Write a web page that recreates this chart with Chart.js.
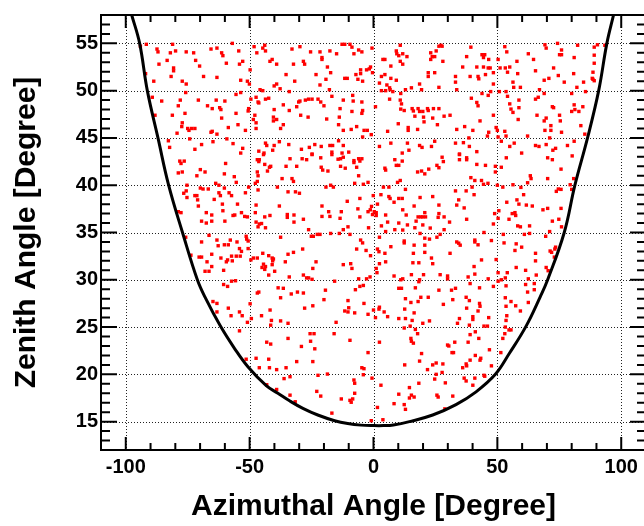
<!DOCTYPE html>
<html>
<head>
<meta charset="utf-8">
<script src="https://cdn.jsdelivr.net/npm/chart.js@4.4.1/dist/chart.umd.min.js"></script>
<style>
  html, body { margin: 0; padding: 0; background: #fff; overflow: hidden; }
  #wrap { width: 660px; height: 526px; }
</style>
</head>
<body>
<div id="wrap"><canvas id="myChart" width="660" height="526"></canvas></div>
<script>
// hits as [azimuth, zenith] pairs
const hitsTop = [
  [-94.1,54.7],[-91.7,54.9],[-87.4,54.4],[-87.0,54.1],[-81.1,54.9],[-82.0,54.0],[-79.9,54.2],[-75.6,54.1],[-72.6,54.0],[-65.6,54.4],[-63.2,54.5],[-61.3,54.0],[-60.8,53.7],[-57.0,55.0],[-83.3,53.2],[-86.6,52.8],[-71.8,53.2],[-70.2,52.6],[-59.4,52.9],[-80.7,52.4],[-80.7,52.1],[-92.0,51.8],[-88.7,51.0],[-81.7,51.5],[-77.2,51.0],[-75.6,50.7],[-68.6,51.5],[-63.2,51.4],[-75.8,49.8],[-89.3,49.3],[-85.5,48.9],[-78.0,49.0],[-78.8,48.4],[-70.7,49.0],[-67.0,48.4],[-65.1,48.1],[-63.5,49.0],[-60.0,48.9],[-62.1,48.2],[-61.6,48.0],[-88.2,47.4],[-81.2,47.4],[-76.1,47.6],[-61.3,47.1],[-77.2,46.6],[-77.4,46.2],[-75.0,46.0],[-73.4,46.0],[-72.1,46.0],[-74.5,45.8],[-79.3,45.5],[-65.6,45.6],[-65.1,45.7],[-63.2,45.4],[-58.6,46.1],[-82.8,44.7],[-74.2,44.9],[-64.8,44.6],[-59.2,44.9],[-82.3,44.0],[-72.1,43.8],[-69.4,44.3],[-56.7,44.4],
  [-54.4,54.2],[-48.2,54.65],[-47.1,54.0],[-44.7,54.5],[-43.9,54.8],[-43.6,54.2],[-32.9,54.4],[-29.7,54.65],[-25.4,54.1],[-21.6,54.1],[-20.8,53.5],[-20.8,53.3],[-17.6,54.2],[-14.9,53.9],[-12.7,54.9],[-11.6,54.9],[-9.5,54.9],[-8.7,54.6],[-7.9,53.9],[-6.0,54.3],[-4.7,54.1],[-0.6,54.5],[-54.1,52.8],[-52.8,53.1],[-41.8,53.1],[-40.9,53.3],[-39.1,52.8],[-32.3,52.8],[-28.3,53.1],[-27.8,52.8],[-18.6,52.5],[-17.3,51.9],[-7.1,51.7],[-5.2,52.2],[-5.2,51.8],[-2.8,52.2],[-1.7,52.3],[-1.2,52.5],[-0.4,51.9],[-49.8,52.2],[-35.3,51.7],[-53.6,51.1],[-50.9,51.0],[-50.1,50.7],[-40.1,50.5],[-39.1,50.7],[-37.7,50.2],[-31.8,51.0],[-23.2,51.7],[-21.6,50.6],[-19.2,51.2],[-11.6,51.3],[-10.6,51.3],[-6.3,51.2],[-4.4,51.0],[-45.8,50.1],[-44.7,50.0],[-34.0,49.9],[-17.8,50.1],[-55.5,49.6],[-53.6,49.8],[-49.5,49.1],[-47.4,49.3],[-46.6,48.8],[-46.3,48.7],[-43.6,49.1],[-42.3,49.2],[-36.4,48.5],[-34.0,47.9],[-31.0,48.3],[-30.2,48.8],[-29.7,48.9],[-27.5,49.0],[-26.2,49.1],[-24.8,49.1],[-22.4,49.1],[-21.3,48.8],[-20.0,48.4],[-16.8,49.4],[-12.2,49.0],[-8.4,49.5],[-4.7,48.8],[-8.2,48.9],[-4.4,47.9],[-4.7,47.6],[-8.7,47.8],[-13.5,48.1],[-40.1,48.0],[-50.4,48.1],[-50.6,47.85],[-55.5,47.6],[-47.9,47.4],[-48.5,46.95],[-47.4,46.6],[-40.4,47.2],[-39.1,46.95],[-40.4,46.8],[-36.4,46.4],[-29.4,47.4],[-26.4,47.2],[-18.9,47.0],[-13.8,47.2],[-14.1,46.4],[-12.2,45.8],[-9.0,45.9],[-6.8,46.2],[-3.8,45.8],[-2.5,45.8],[-37.5,46.0],[-47.4,46.0],[-51.7,45.8],[-54.7,46.4],[-4.4,45.1],[-0.9,45.35],[-52.8,43.9],[-53.6,43.4],[-46.3,43.6],[-43.6,44.45],[-43.1,44.2],[-40.1,44.2],[-38.0,44.6],[-34.2,44.3],[-44.2,43.4],[-40.7,43.7],[-29.1,43.8],[-25.9,44.0],[-24.8,43.3],[-23.7,44.3],[-21.1,44.1],[-17.6,44.2],[-16.5,44.2],[-16.8,43.5],[-14.1,44.7],[-12.2,44.2],[-12.7,43.4],[-10.0,43.5],
  [10.8,54.8],[9.2,54.2],[9.4,53.9],[10.2,53.7],[11.8,53.9],[13.5,53.6],[3.8,53.3],[4.6,53.3],[10.8,53.1],[11.8,52.8],[7.0,52.6],[23.1,54.0],[23.7,53.6],[24.7,53.6],[23.1,53.3],[25.3,54.2],[26.4,54.7],[27.2,54.8],[27.7,54.7],[28.0,53.1],[37.6,53.6],[39.3,54.6],[43.8,53.8],[44.9,53.8],[44.4,53.5],[46.5,53.3],[50.3,53.3],[53.0,54.65],[53.8,54.1],[41.7,52.5],[44.4,52.5],[46.3,52.4],[47.1,52.4],[48.4,51.9],[51.1,52.4],[53.2,52.4],[36.0,52.5],[45.2,51.7],[42.2,51.5],[42.5,51.25],[39.0,51.5],[33.1,51.5],[33.1,50.9],[24.7,51.9],[22.1,51.9],[22.1,51.5],[18.6,50.7],[4.6,51.7],[3.2,51.5],[7.0,51.3],[9.2,51.1],[2.4,50.8],[5.4,50.6],[6.5,50.3],[6.7,50.1],[4.9,50.0],[3.2,50.0],[7.8,49.9],[11.0,49.7],[12.9,50.1],[15.3,50.3],[19.4,50.1],[26.4,50.35],[33.6,50.1],[48.4,50.7],[43.8,49.7],[46.3,49.5],[47.3,49.9],[50.8,49.9],[53.5,49.9],[39.5,49.2],[41.7,48.75],[42.2,48.4],[6.5,49.1],[10.8,49.0],[11.3,48.6],[0.8,48.3],[11.0,48.05],[12.4,47.9],[15.6,48.1],[18.0,48.1],[18.6,47.8],[16.1,47.85],[19.9,47.8],[21.8,48.1],[24.2,48.1],[26.4,48.1],[20.2,47.2],[16.7,47.3],[22.1,47.9],[20.4,46.7],[23.9,47.1],[25.8,46.4],[28.5,47.3],[30.9,47.4],[10.0,46.5],[14.0,46.1],[14.0,45.8],[17.8,45.9],[5.7,45.7],[36.8,46.2],[33.6,45.9],[40.1,45.8],[43.0,46.8],[48.4,47.4],[49.5,46.1],[50.0,45.8],[46.5,45.6],[46.0,45.2],[50.3,45.1],[53.0,45.7],[53.5,45.2],[38.5,45.0],[24.7,44.65],[23.4,44.1],[18.6,44.2],[19.6,44.0],[13.7,44.45],[7.0,44.45],[2.4,44.1],[11.6,43.4],[14.3,43.7],[33.1,44.45],[34.7,43.3],[36.3,44.5],[38.7,44.1],[41.7,43.55],[51.6,44.65],
  [69.2,54.85],[69.7,54.5],[74.3,55.0],[75.9,54.3],[75.1,53.8],[75.9,53.8],[82.4,54.8],[81.0,53.5],[89.1,54.6],[90.4,54.85],[93.4,54.8],[89.1,53.75],[62.5,53.9],[64.6,53.3],[57.9,53.1],[55.0,52.5],[54.1,51.95],[65.4,52.1],[58.2,51.8],[72.7,52.4],[74.6,51.6],[68.9,51.1],[70.8,51.3],[77.0,50.9],[80.8,51.8],[84.8,50.9],[88.6,51.95],[88.3,51.3],[88.6,51.2],[89.1,51.05],[89.1,52.9],[56.3,50.9],[56.6,50.35],[59.3,50.35],[67.0,50.1],[68.9,49.7],[66.5,49.3],[65.4,49.1],[82.1,50.35],[85.6,49.9],[80.0,49.7],[54.1,49.4],[58.7,49.0],[55.0,48.6],[58.7,48.2],[55.5,48.05],[56.3,47.7],[58.4,46.95],[66.0,47.4],[68.9,46.8],[69.7,47.1],[72.2,48.3],[72.7,48.2],[75.1,47.4],[75.4,46.8],[81.0,48.5],[81.3,48.0],[80.0,47.8],[82.9,47.8],[84.5,48.3],[83.7,46.3],[71.6,46.3],[71.6,45.8],[69.2,45.8],[75.9,45.6],[62.2,45.2],[71.1,45.0],[85.3,45.4],[55.0,44.1],[56.8,44.45],[59.8,43.4],[65.4,44.2],[66.8,44.1],[69.7,44.3],[72.4,43.7],[73.5,43.9],[78.3,44.2],[81.0,44.65]
];

const hitsMiddle = [
  [-78.2,42.55],[-76.4,42.55],[-77.7,42.3],[-78.8,41.3],[-77.2,41.4],[-69.9,41.65],[-68.0,41.4],[-71.3,41.0],[-59.7,42.3],[-60.2,41.2],[-56.2,40.9],[-75.3,40.0],[-75.6,39.4],[-76.6,39.15],[-75.3,38.7],[-72.1,38.9],[-71.3,38.9],[-71.0,38.45],[-70.7,37.8],[-69.9,39.7],[-68.8,39.6],[-66.7,39.6],[-63.7,40.2],[-62.4,40.0],[-60.2,39.7],[-62.4,39.2],[-61.8,38.9],[-58.3,39.2],[-57.3,38.9],[-55.4,40.3],[-54.9,38.0],[-64.3,38.5],[-61.0,38.0],[-78.8,37.2],[-77.7,37.1],[-67.5,37.1],[-65.3,36.85],[-69.4,36.2],[-67.5,36.0],[-65.3,36.2],[-60.8,37.3],[-60.0,36.2],[-56.7,36.8],[-66.4,34.7],[-75.8,34.5],[-69.4,34.0],[-63.2,34.2],[-62.7,33.6],[-60.2,33.7],[-58.6,33.7],[-57.8,34.2],[-55.1,34.0],[-70.4,32.4],[-69.4,32.4],[-73.7,32.6],[-65.3,32.7],[-61.6,32.3],[-58.9,32.1],[-59.4,31.9],[-57.3,32.5],[-55.4,32.5],[-57.0,32.0],[-67.2,31.9],[-65.3,31.4],[-68.0,30.9],[-66.4,30.9],[-60.5,31.0],[-57.3,29.85],[-55.7,29.9],[-60.5,29.5],[-58.9,29.3],
  [-46.9,42.7],[-46.1,42.7],[-46.3,42.5],[-44.4,43.24],[-43.9,42.2],[-42.0,41.9],[-42.8,41.5],[-41.5,42.0],[-35.3,42.0],[-33.7,42.8],[-31.0,42.0],[-28.8,42.8],[-27.0,42.7],[-24.8,43.24],[-36.9,40.7],[-32.9,40.7],[-32.3,40.4],[-46.9,41.4],[-46.6,41.0],[-46.9,40.4],[-47.7,40.2],[-50.4,39.8],[-38.8,39.8],[-34.5,39.3],[-31.5,39.3],[-29.9,39.15],[-21.1,41.9],[-20.5,41.6],[-18.4,41.5],[-21.3,42.9],[-16.8,43.24],[-14.3,42.75],[-13.3,42.8],[-12.2,42.96],[-13.3,42.0],[-11.4,41.8],[-7.9,42.6],[-7.9,42.4],[-6.0,42.8],[-4.7,42.8],[-5.5,42.55],[-6.8,41.9],[-6.0,41.0],[-19.2,39.8],[-17.3,40.0],[-16.2,39.8],[-7.6,40.2],[-4.1,40.1],[-2.2,40.3],[-46.6,39.5],[-51.7,39.2],[-47.4,37.9],[-53.3,37.1],[-56.0,36.85],[-52.0,36.7],[-50.9,36.65],[-47.7,37.1],[-43.9,36.65],[-41.8,36.8],[-38.0,37.8],[-34.8,36.9],[-34.8,36.6],[-32.1,36.85],[-28.3,36.4],[-32.1,36.1],[-47.4,36.1],[-46.1,35.9],[-45.2,35.95],[-46.6,35.6],[-43.6,35.5],[-20.8,37.8],[-18.1,37.2],[-17.6,36.7],[-20.8,36.7],[-13.0,37.2],[-13.5,36.5],[-10.6,38.3],[-5.5,38.6],[-6.3,37.5],[-5.5,36.65],[-2.2,37.2],[-0.4,36.9],[-0.1,38.9],[-10.3,35.6],[-2.0,35.5],[-26.2,35.3],[-25.1,34.6],[-24.3,34.6],[-22.7,34.8],[-21.6,34.8],[-17.3,34.9],[-13.8,34.9],[-12.2,35.3],[-9.5,34.8],[-5.2,34.2],[-4.4,33.9],[-6.8,33.25],[-3.0,33.1],[-1.2,32.55],[-51.4,34.6],[-51.2,34.3],[-50.6,34.1],[-54.1,33.3],[-53.3,33.0],[-50.6,33.3],[-53.8,32.5],[-49.5,32.1],[-48.5,32.3],[-46.9,32.3],[-44.7,32.8],[-42.3,32.55],[-40.9,32.3],[-40.4,32.2],[-40.7,32.0],[-44.4,31.65],[-43.6,31.4],[-43.9,31.1],[-45.0,31.3],[-40.9,31.6],[-39.9,30.9],[-42.3,30.5],[-37.5,34.5],[-34.5,32.7],[-32.3,32.9],[-35.6,31.9],[-28.6,33.25],[-23.2,31.9],[-12.2,31.6],[-9.2,31.7],[-8.7,31.2],[-24.5,31.2],[-28.3,30.5],[-34.0,30.3],[-27.0,30.2],[-26.2,30.2],[-24.8,30.05],[-15.7,29.85],[-6.0,30.1],[-2.8,30.1],[-1.4,30.3],[-4.1,29.4],[-5.5,29.3],[-7.3,28.95],[-19.4,28.9],[-30.7,28.7],[-28.3,28.6],[-33.2,28.5],[-38.5,29.15],[-36.4,29.1],[-46.9,28.6],[-46.3,28.7],
  [8.6,42.7],[11.6,42.55],[9.2,42.1],[10.2,42.1],[4.6,41.8],[4.9,41.6],[17.8,41.4],[19.4,41.5],[20.7,41.2],[22.3,41.7],[25.6,42.1],[26.4,41.85],[27.7,42.96],[28.2,42.5],[34.7,43.24],[34.7,42.7],[37.6,42.9],[37.6,42.7],[41.7,42.2],[45.2,42.1],[49.2,42.0],[51.6,41.9],[49.2,41.4],[39.3,40.8],[40.9,40.5],[43.6,40.5],[44.4,40.1],[46.2,40.2],[50.0,40.0],[52.2,39.8],[10.8,40.5],[9.7,40.3],[4.0,39.8],[6.2,39.8],[12.9,39.56],[3.0,39.0],[6.2,38.8],[6.7,38.6],[10.2,38.6],[11.6,38.6],[8.3,38.2],[1.6,38.0],[18.8,38.7],[23.9,38.8],[33.1,39.4],[37.4,39.4],[39.8,39.8],[40.6,39.0],[34.4,38.45],[33.6,37.9],[36.6,37.6],[26.4,37.9],[16.4,37.8],[53.8,38.2],[-0.8,37.76],[-1.3,37.4],[0.3,37.2],[1.1,37.1],[1.1,36.8],[4.9,36.85],[11.8,37.4],[13.2,36.85],[20.7,37.1],[18.0,36.65],[19.1,36.65],[19.9,36.65],[21.0,36.65],[17.2,36.2],[26.4,37.0],[26.1,36.6],[28.5,36.65],[30.7,36.1],[37.6,36.4],[48.9,37.0],[50.6,37.3],[50.3,36.5],[48.4,35.9],[13.7,35.8],[10.2,36.0],[5.7,36.1],[3.2,35.7],[8.6,35.3],[11.8,35.26],[4.9,35.1],[16.7,35.5],[19.9,35.8],[22.9,35.47],[28.5,35.3],[26.9,34.8],[25.6,34.5],[18.8,34.9],[22.6,34.3],[20.7,34.4],[12.4,34.1],[12.4,33.9],[2.4,34.5],[7.0,33.5],[1.6,33.25],[2.2,32.97],[4.6,32.8],[16.1,32.8],[16.4,33.66],[20.7,33.66],[20.7,32.9],[23.4,32.3],[23.9,31.7],[15.9,31.8],[18.3,31.8],[4.9,31.9],[2.4,31.7],[1.1,31.2],[1.4,30.75],[30.9,32.8],[33.6,34.0],[35.0,33.66],[34.4,33.87],[40.9,34.2],[40.9,34.0],[42.2,33.7],[44.6,35.0],[47.6,34.15],[52.7,33.9],[52.4,34.8],[49.5,32.14],[43.6,32.1],[40.6,31.4],[40.9,30.6],[50.3,30.75],[54.0,30.75],[53.2,30.2],[50.3,29.85],[46.3,30.1],[38.2,30.3],[29.9,30.4],[29.9,30.1],[26.9,30.54],[20.2,30.54],[15.3,30.54],[18.6,30.0],[18.3,29.8],[11.8,30.1],[11.0,30.0],[8.3,30.4],[16.9,29.15],[10.2,29.1],[11.3,29.1],[26.4,28.9],[31.5,28.9],[33.1,29.1],[39.0,29.6],[42.8,29.15],[48.4,29.3],[51.6,30.0],[53.5,29.36],
  [53.6,42.9],[70.3,42.9],[72.2,42.7],[80.2,43.1],[75.7,41.7],[63.3,41.0],[63.6,40.7],[62.2,40.26],[70.3,40.7],[59.5,39.77],[56.3,40.05],[80.8,40.7],[79.4,40.05],[80.0,39.56],[73.8,39.35],[74.6,39.6],[75.7,39.56],[60.6,39.0],[57.9,38.45],[58.7,38.0],[61.7,37.9],[64.1,37.8],[68.4,37.4],[70.3,37.55],[75.7,37.55],[56.0,37.0],[57.1,37.1],[57.4,36.8],[54.7,36.4],[58.2,35.7],[59.3,35.6],[63.0,35.7],[72.2,36.2],[74.8,36.4],[75.9,35.6],[71.1,35.1],[69.5,34.6],[63.0,34.9],[60.9,34.8],[57.6,33.8],[59.8,33.45],[57.1,33.1],[65.4,32.8],[71.3,33.04],[71.9,32.9],[73.2,33.25],[73.5,33.45],[73.0,32.4],[65.4,32.0],[57.6,31.3],[61.4,31.0],[69.7,31.3],[70.5,30.96],[65.7,30.5],[62.5,30.1],[61.4,29.5],[64.9,29.6],[64.9,28.95],[62.2,28.7]
];

const hitsBottom = [
  [-64.8,27.7],[-63.2,27.5],[-63.2,26.6],[-58.6,27.0],[-57.5,26.2],
  [-49.8,27.46],[-37.5,28.1],[-20.0,27.9],[-10.3,27.8],[-3.85,27.5],[-54.1,26.6],[-53.0,26.2],[-49.3,25.9],[-45.2,26.2],[-41.75,26.8],[-41.2,25.7],[-41.5,25.2],[-37.5,25.65],[-34.5,25.4],[-50.9,25.5],[-27.8,27.0],[-24.5,27.25],[-11.6,26.7],[-10.3,26.6],[-10.0,27.04],[-7.6,26.5],[-2.2,26.35],[-15.1,25.5],[-54.1,24.6],[-34.5,23.8],[-43.1,23.4],[-41.5,23.2],[-29.1,22.95],[-25.6,24.3],[-24.0,24.3],[-25.4,23.5],[-23.7,22.7],[-15.9,24.3],[-9.5,23.6],[-2.2,22.3],[-51.4,21.6],[-47.4,21.7],[-42.3,21.6],[-46.1,20.7],[-42.0,20.7],[-39.1,20.5],[-35.3,20.7],[-31.0,21.35],[-24.5,21.35],[-4.7,20.7],[-3.85,20.6],[-4.1,19.96],[-22.4,19.9],[-18.6,20.03],[-33.7,19.75],[-36.1,19.55],[-7.9,19.4],[-7.6,19.06],[-0.6,19.6],[-43.1,18.9],[-39.1,18.4],[-22.9,18.2],[-21.3,17.7],[-33.7,17.8],[-7.6,18.0],[-13.0,17.4],[-9.5,17.25],[-8.4,17.4],[-9.0,17.05],[-31.6,17.1],[-16.8,15.9],[-0.9,15.1],
  [12.9,28.0],[19.1,28.15],[22.1,28.15],[18.0,27.7],[15.1,27.6],[28.2,27.4],[32.0,27.9],[37.4,28.15],[38.7,27.8],[42.8,27.5],[43.0,27.2],[42.2,26.7],[37.6,27.0],[34.7,25.9],[33.9,25.4],[40.1,26.1],[40.1,25.8],[46.5,26.0],[46.0,25.1],[44.6,25.1],[53.2,28.1],[53.5,27.2],[53.5,25.7],[53.8,26.2],[53.2,25.0],[53.0,24.3],[52.2,23.8],[0.0,26.8],[2.2,26.9],[2.4,27.1],[4.3,26.6],[5.7,26.1],[10.2,25.9],[12.9,25.9],[12.6,26.9],[16.4,26.5],[15.6,25.7],[19.9,25.4],[22.6,25.65],[0.8,26.0],[12.4,24.9],[14.8,25.1],[16.9,24.75],[17.8,24.3],[15.1,23.8],[15.3,23.5],[16.1,23.3],[2.4,23.4],[38.7,25.2],[41.1,24.5],[39.0,24.2],[42.5,23.8],[29.9,23.1],[30.4,23.0],[32.8,23.4],[38.2,23.4],[31.7,22.3],[32.3,22.3],[19.4,22.2],[18.6,21.4],[12.6,21.0],[21.8,20.5],[23.9,21.0],[25.3,21.2],[28.0,21.1],[36.0,20.7],[37.4,21.1],[37.6,20.9],[39.0,21.5],[41.1,22.0],[43.3,21.7],[43.0,21.5],[46.8,22.6],[51.4,22.3],[47.6,20.9],[3.0,18.85],[18.3,19.06],[14.5,18.6],[27.7,20.2],[25.3,20.0],[24.7,19.5],[29.0,19.1],[36.6,19.6],[37.4,19.3],[40.9,19.6],[40.1,18.85],[44.6,19.9],[44.9,19.8],[25.6,17.8],[26.1,17.6],[15.3,17.8],[16.4,17.6],[14.5,17.5],[10.2,17.9],[8.3,16.9],[12.4,16.8],[12.9,16.3],[1.6,16.5],[32.0,17.7],[28.8,16.35],[3.8,15.2],
  [55.5,27.7],[57.4,27.25],[62.5,27.6],[59.3,26.7],[54.7,24.7],[55.5,24.7]
];

// acceptance boundary (black curve)
const curveAz  = [-97.6,-94.4,-91.3,-87.0,-82.7,-77.1,-71.1,-67.7,-61.8,-56.0,-50.7,-43.3,-38.6,-33.9,-28.5,-22.5,-15.7,-10.4,-5,0,4,8,14.5,23.9,33.3,41.4,49.2,54.8,61.6,67.3,70.3,77.0,81.3,86.4,90.9,94.2,96.9];
const curveZen = [58,55,50,45,40,35,30,28,25.1,22.7,20.8,18.8,18.0,17.2,16.4,15.7,15.1,14.8,14.63,14.58,14.58,14.65,15.0,15.7,16.8,18.15,20.0,22.2,25.1,28.2,30,35,40,45,50,55,58];

const xMajorTicks = [-100, -50, 0, 50, 100];
const yMajorTicks = [15, 20, 25, 30, 35, 40, 45, 50, 55];

const FONT = "'Liberation Sans', Arial, Helvetica, sans-serif";
Chart.defaults.font.family = FONT;

// ROOT style frame: dotted grid, inward major/minor ticks on all four sides
const rootFrame = {
    id: 'rootFrame',
    beforeDatasetsDraw(chart) {
        const { ctx, chartArea: a, scales: { x, y } } = chart;
        ctx.save();
        ctx.strokeStyle = '#222';
        ctx.lineWidth = 1;
        ctx.setLineDash([1, 2]);
        ctx.beginPath();
        xMajorTicks.forEach(v => {
            const px = Math.round(x.getPixelForValue(v)) + 0.5;
            ctx.moveTo(px, a.top); ctx.lineTo(px, a.bottom);
        });
        yMajorTicks.forEach(v => {
            const py = Math.round(y.getPixelForValue(v)) + 0.5;
            ctx.moveTo(a.left, py); ctx.lineTo(a.right, py);
        });
        ctx.stroke();
        ctx.restore();
    },
    afterDatasetsDraw(chart) {
        const { ctx, chartArea: a, scales: { x, y } } = chart;
        ctx.save();
        ctx.strokeStyle = '#000';
        ctx.lineWidth = 2;
        ctx.beginPath();
        for (let v = x.min; v <= x.max; v += 10) {
            const px = x.getPixelForValue(v);
            const len = v % 50 === 0 ? 13 : 7;
            ctx.moveTo(px, a.bottom); ctx.lineTo(px, a.bottom - len);
            ctx.moveTo(px, a.top); ctx.lineTo(px, a.top + len);
        }
        for (let v = y.min; v <= y.max; v += 1) {
            const py = y.getPixelForValue(v);
            const len = v % 5 === 0 ? 16 : 9;
            ctx.moveTo(a.left, py); ctx.lineTo(a.left + len, py);
            ctx.moveTo(a.right, py); ctx.lineTo(a.right - len, py);
        }
        ctx.stroke();
        ctx.strokeRect(a.left, a.top, a.right - a.left, a.bottom - a.top);
        ctx.restore();
    }
};

const hits = [...hitsTop, ...hitsMiddle, ...hitsBottom].map(p => ({ x: p[0], y: p[1] }));
const boundary = curveAz.map((az, i) => ({ x: az, y: curveZen[i] }));

const myChart = new Chart(document.getElementById('myChart'), {
    type: 'scatter',
    data: {
        datasets: [{
            type: 'scatter',
            data: hits,
            pointStyle: 'rect',
            pointRadius: 2.4,
            backgroundColor: '#ff0000',
            borderWidth: 0,
            order: 2
        }, {
            type: 'line',
            data: boundary,
            borderColor: '#000',
            borderWidth: 3,
            pointRadius: 0,
            fill: false,
            tension: 0.4,
            order: 1
        }]
    },
    options: {
        responsive: false,
        animation: false,
        layout: { padding: { left: 0, right: 14, top: 8, bottom: 0 } },
        plugins: { legend: { display: false }, tooltip: { enabled: false } },
        scales: {
            x: {
                type: 'linear',
                min: -110,
                max: 110,
                grid: { display: false, drawTicks: false },
                border: { display: false },
                ticks: {
                    stepSize: 50,
                    includeBounds: false,
                    padding: 5,
                    maxRotation: 0,
                    color: '#000',
                    font: { size: 20, weight: 'bold' }
                },
                title: {
                    display: true,
                    text: 'Azimuthal Angle [Degree]',
                    color: '#000',
                    font: { size: 30, weight: 'bold' },
                    padding: { top: 0, bottom: 1 }
                },
                afterFit(scale) { scale.height = 76; }
            },
            y: {
                type: 'linear',
                min: 12,
                max: 58,
                grid: { display: false, drawTicks: false },
                border: { display: false },
                ticks: {
                    stepSize: 5,
                    includeBounds: false,
                    padding: 3,
                    color: '#000',
                    font: { size: 20, weight: 'bold' }
                },
                title: {
                    display: true,
                    text: 'Zenith Angle [Degree]',
                    color: '#000',
                    font: { size: 30, weight: 'bold' },
                    padding: { top: 9, bottom: 0 }
                },
                afterFit(scale) { scale.width = 101; }
            }
        }
    },
    plugins: [rootFrame]
});
</script>
</body>
</html>
